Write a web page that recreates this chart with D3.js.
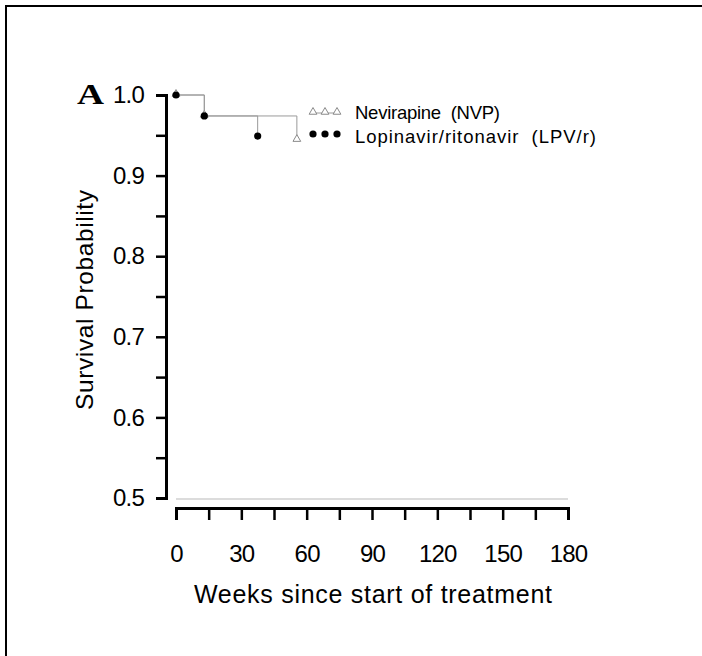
<!DOCTYPE html>
<html>
<head>
<meta charset="utf-8">
<script src="https://cdn.jsdelivr.net/npm/d3@7"></script>
<style>
  body { margin: 0; background: #fff; }
  text { font-family: "Liberation Sans", Arial, sans-serif; }
</style>
</head>
<body>
<svg id="chart" width="702" height="656"></svg>
<script>
// Kaplan-Meier values
var weeks_nvp = [0, 13, 55.5];
var surv_nvp = [1.0, 0.974, 0.944];
var weeks_lpv = [0, 13, 37.5];
var surv_lpv = [1.0, 0.974, 0.949];

var x_ticks = d3.range(0, 181, 15);
var y_ticks = [0.5, 0.55, 0.6, 0.65, 0.7, 0.75, 0.8, 0.85, 0.9, 0.95, 1.0];
var legend_names = ["Nevirapine  (NVP)", "Lopinavir/ritonavir  (LPV/r)"];

var svg = d3.select("#chart");

var x = d3.scaleLinear().domain([0, 180]).range([176, 568]);
var y = d3.scaleLinear().domain([0.5, 1.0]).range([498, 95]);

// frame, only top and left edges show
svg.append("path")
    .attr("d", "M6,656V6H702")
    .attr("fill", "none")
    .attr("stroke", "#000")
    .attr("stroke-width", 2);

// light line at the bottom of the y range
svg.append("line")
    .attr("x1", x(0)).attr("x2", x(180))
    .attr("y1", y(0.5) + 1).attr("y2", y(0.5) + 1)
    .attr("stroke", "#d0d0d0")
    .attr("stroke-width", 1.5);

var xAxis = d3.axisBottom(x)
    .tickValues(x_ticks)
    .tickSize(12)
    .tickPadding(25)
    .tickFormat(d => d % 30 == 0 ? d : "");

var gx = svg.append("g")
    .attr("transform", "translate(0,508)")
    .call(xAxis);

var yAxis = d3.axisLeft(y)
    .tickValues(y_ticks)
    .tickSize(10)
    .tickPadding(12)
    .tickFormat(d => Math.round(d * 100) % 10 == 0 ? d3.format(".1f")(d) : "");

var gy = svg.append("g")
    .attr("transform", "translate(166,0)")
    .call(yAxis);

[gx, gy].forEach(function(g){
    g.select(".domain").attr("stroke-width", 3);
    g.selectAll(".tick line").attr("stroke-width", 2.5);
    g.selectAll(".tick text")
        .attr("fill", "#000")
        .style("font-size", "24px")
        .style("letter-spacing", "-0.8px")
        .style("font-family", "'Liberation Sans', Arial, sans-serif");
});
gx.selectAll(".tick text").attr("dy", "0.71em");

// step curves
var step = d3.line()
    .x(d => x(d[0]))
    .y(d => y(d[1]))
    .curve(d3.curveStepAfter);

var nvp = weeks_nvp.map((w, i) => [w, surv_nvp[i]]);
var lpv = weeks_lpv.map((w, i) => [w, surv_lpv[i]]);

[nvp, lpv].forEach(function(s){
    svg.append("path")
        .attr("d", step(s))
        .attr("fill", "none")
        .attr("stroke", "#9a9a9a")
        .attr("stroke-width", 1);
});

var tri = d3.symbol().type(d3.symbolTriangle).size(26);

svg.selectAll(".tri")
    .data(nvp)
    .enter()
    .append("path")
    .attr("class", "tri")
    .attr("d", tri)
    .attr("transform", d => "translate(" + x(d[0]) + "," + (y(d[1]) - 1) + ")")
    .attr("fill", "#fff")
    .attr("stroke", "#8a8a8a")
    .attr("stroke-width", 1);

svg.selectAll(".dot")
    .data(lpv)
    .enter()
    .append("circle")
    .attr("class", "dot")
    .attr("cx", d => x(d[0]))
    .attr("cy", d => y(d[1]))
    .attr("r", 3.6)
    .attr("fill", "#000");

// legend
var lg = svg.append("g");
var lx = [313, 325, 337];
lg.append("line")
    .attr("x1", 313).attr("x2", 337)
    .attr("y1", 113).attr("y2", 113)
    .attr("stroke", "#9a9a9a").attr("stroke-width", 1);
lx.forEach(function(px){
    lg.append("path")
        .attr("d", tri)
        .attr("transform", "translate(" + px + ",112)")
        .attr("fill", "#fff")
        .attr("stroke", "#8a8a8a")
        .attr("stroke-width", 1);
    lg.append("circle")
        .attr("cx", px).attr("cy", 134)
        .attr("r", 3.6)
        .attr("fill", "#000");
});
var legend_len = [145, 241];
lg.selectAll("text")
    .data(legend_names)
    .enter()
    .append("text")
    .attr("x", 355)
    .attr("y", (d, i) => 119 + i * 23.5)
    .attr("textLength", (d, i) => legend_len[i])
    .attr("lengthAdjust", "spacing")
    .style("font-size", "18.5px")
    .style("white-space", "pre")
    .text(d => d);

// panel letter
svg.append("text")
    .attr("x", 77)
    .attr("y", 104)
    .attr("textLength", 27)
    .attr("lengthAdjust", "spacingAndGlyphs")
    .style("font-family", "'Liberation Serif', 'DejaVu Serif', serif")
    .style("font-weight", "bold")
    .style("font-size", "30px")
    .text("A");

// axis titles
svg.append("text")
    .attr("x", 373)
    .attr("y", 603)
    .attr("text-anchor", "middle")
    .attr("textLength", 358)
    .attr("lengthAdjust", "spacing")
    .style("font-size", "25px")
    .text("Weeks since start of treatment");

svg.append("text")
    .attr("transform", "translate(93,300) rotate(-90)")
    .attr("text-anchor", "middle")
    .attr("textLength", 220)
    .attr("lengthAdjust", "spacing")
    .style("font-size", "24.5px")
    .text("Survival Probability");
</script>
</body>
</html>
